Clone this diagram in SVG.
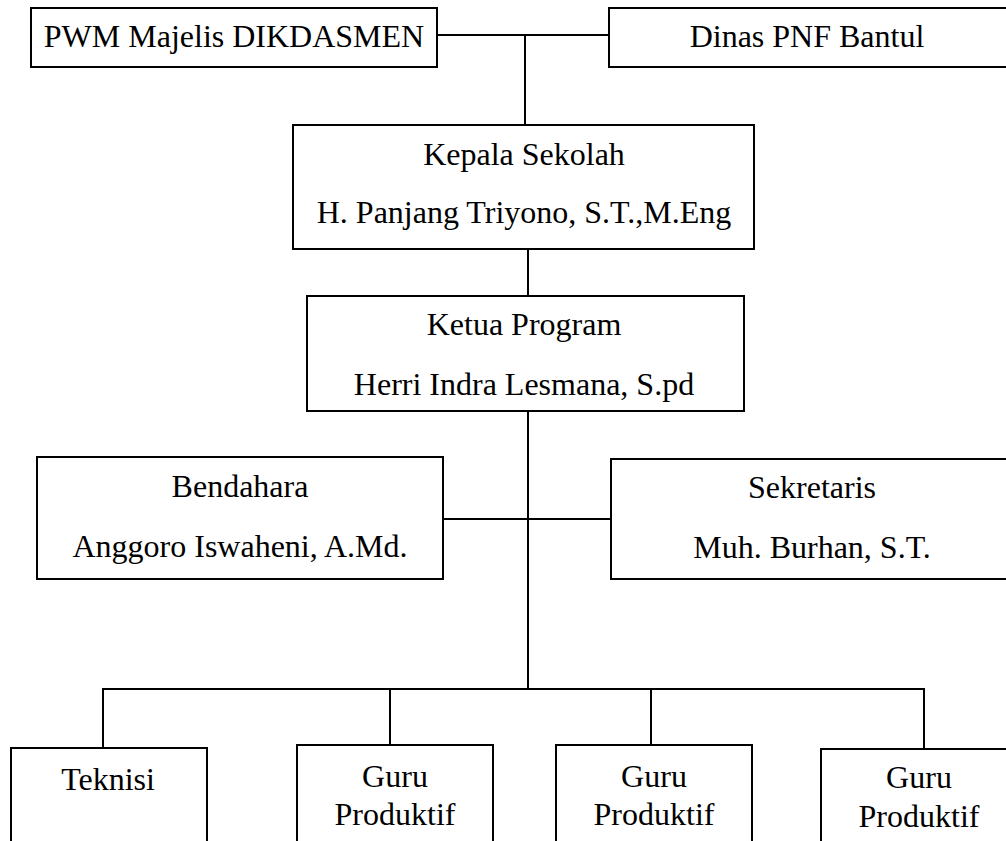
<svg xmlns="http://www.w3.org/2000/svg" width="1006" height="841" viewBox="0 0 1006 841">
<style>
.box{fill:#fff;stroke:#000;stroke-width:2}
.ln{stroke:#000;stroke-width:2;fill:none}
text{font-family:"Liberation Serif","Times New Roman",serif;font-size:32px;fill:#000;text-anchor:middle}
</style>
<rect width="1006" height="841" fill="#fff"/>
<g id="connectors">
<line class="ln" x1="437" y1="35" x2="609" y2="35"/>
<line class="ln" x1="525" y1="35" x2="525" y2="125"/>
<line class="ln" x1="528" y1="249" x2="528" y2="296"/>
<line class="ln" x1="528" y1="411" x2="528" y2="689"/>
<line class="ln" x1="443" y1="519" x2="611" y2="519"/>
<line class="ln" x1="102" y1="689" x2="925" y2="689"/>
<line class="ln" x1="103" y1="689" x2="103" y2="748"/>
<line class="ln" x1="390" y1="689" x2="390" y2="745"/>
<line class="ln" x1="651" y1="689" x2="651" y2="745"/>
<line class="ln" x1="924" y1="689" x2="924" y2="749"/>
</g>
<g id="pwm">
<rect class="box" x="31" y="8" width="406" height="59"/>
<text x="234" y="47">PWM Majelis DIKDASMEN</text>
</g>
<g id="dinas">
<rect class="box" x="609" y="8" width="420" height="59"/>
<text x="807" y="47">Dinas PNF Bantul</text>
</g>
<g id="kepala">
<rect class="box" x="293" y="125" width="461" height="124"/>
<text x="524" y="165">Kepala Sekolah</text>
<text x="524" y="223">H. Panjang Triyono, S.T.,M.Eng</text>
</g>
<g id="ketua">
<rect class="box" x="307" y="296" width="437" height="115"/>
<text x="524" y="335">Ketua Program</text>
<text x="524" y="395">Herri Indra Lesmana, S.pd</text>
</g>
<g id="bendahara">
<rect class="box" x="37" y="457" width="406" height="122"/>
<text x="240" y="497">Bendahara</text>
<text x="240" y="557">Anggoro Iswaheni, A.Md.</text>
</g>
<g id="sekretaris">
<rect class="box" x="611" y="459" width="420" height="120"/>
<text x="812" y="498">Sekretaris</text>
<text x="812" y="558">Muh. Burhan, S.T.</text>
</g>
<g id="teknisi">
<rect class="box" x="11" y="748" width="196" height="120"/>
<text x="108" y="790">Teknisi</text>
</g>
<g id="guru1">
<rect class="box" x="297" y="745" width="196" height="120"/>
<text x="395" y="787">Guru</text>
<text x="395" y="825">Produktif</text>
</g>
<g id="guru2">
<rect class="box" x="556" y="745" width="196" height="120"/>
<text x="654" y="787">Guru</text>
<text x="654" y="825">Produktif</text>
</g>
<g id="guru3">
<rect class="box" x="821" y="749" width="196" height="120"/>
<text x="919" y="788">Guru</text>
<text x="919" y="827">Produktif</text>
</g>
</svg>
